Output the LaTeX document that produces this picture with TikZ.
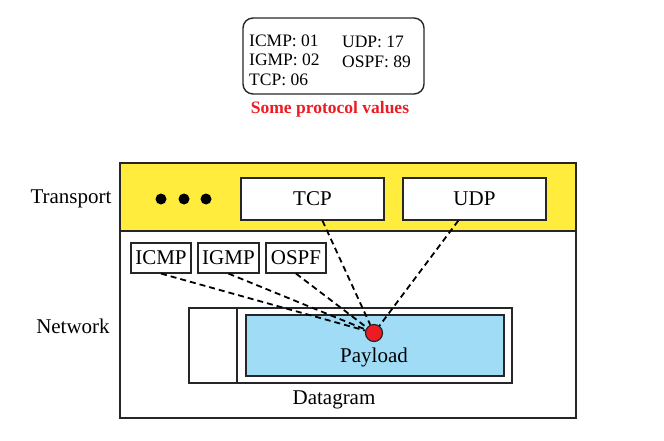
\documentclass[tikz,border=0pt]{standalone}
\usepackage{fontspec}
\setmainfont{Liberation Serif}
\definecolor{trY}{RGB}{255,236,60}
\definecolor{plB}{RGB}{160,220,246}
\definecolor{redP}{RGB}{237,28,36}
\begin{document}
\begin{tikzpicture}[x=1pt,y=-1pt,
  lbl/.style={font=\fontsize{21}{25}\selectfont},
  pbox/.style={draw=black!85,fill=white,line width=1.2pt,inner sep=0pt,font=\fontsize{21}{25}\selectfont},
  ptxt/.style={anchor=west,inner sep=0pt,font=\fontsize{17.5}{20}\selectfont},
  dl/.style={line width=1.8pt,dash pattern=on 6pt off 4pt}]
\useasboundingbox (0,0) rectangle (664,441);
% protocol box
\draw[line width=1.4pt,rounded corners=10pt,black!85] (243,18) rectangle (424,94);
\node[ptxt] (t1) at (249,41) {ICMP: 01};
\node[ptxt] (t2) at (249,60) {IGMP: 02};
\node[ptxt] (t3) at (249,80) {TCP: 06};
\node[ptxt] (t4) at (342,42) {UDP: 17};
\node[ptxt] (t5) at (342,62) {OSPF: 89};
\node[text=redP,font=\bfseries\fontsize{17.5}{20}\selectfont,inner sep=0pt] (cap) at (330,109) {Some protocol values};
% outer
\fill[trY] (120,163) rectangle (576,231);
\draw[line width=1.6pt,black!85] (120,163) rectangle (576,418);
\draw[line width=1.6pt,black!85] (120,231) -- (576,231);
\node[lbl,inner sep=0pt] (tr) at (71,199) {Transport};
\node[lbl,inner sep=0pt] (nw) at (73,326) {Network};
\foreach \x in {161,184,206} \fill (\x,199) circle (5.5pt);
\node[pbox,minimum width=143pt,minimum height=42pt] (tcp) at (312.5,199) {TCP};
\node[pbox,minimum width=143pt,minimum height=42pt] (udp) at (474.5,199) {UDP};
\node[pbox,minimum width=60pt,minimum height=30pt] (icmp) at (161,258) {ICMP};
\node[pbox,minimum width=61pt,minimum height=30pt] (igmp) at (228.5,258) {IGMP};
\node[pbox,minimum width=60pt,minimum height=30pt] (ospf) at (296,258) {OSPF};
% datagram
\draw[line width=1.4pt,black!85] (189,308) rectangle (512,383);
\draw[line width=1.4pt,black!85] (237,308) -- (237,383);
\draw[line width=1.4pt,black!85,fill=plB] (246,315) rectangle (504,376);
\node[lbl,inner sep=0pt] (pl) at (374,357) {Payload};
\node[lbl,inner sep=0pt] (dg) at (334,400) {Datagram};
\node[circle,draw=black!85,fill=redP,line width=1.2pt,minimum size=17pt,inner sep=0pt] (dot) at (374,333) {};
\draw[dl] (icmp.south) -- (dot);
\draw[dl] (igmp.south) -- (dot);
\draw[dl] (ospf.south) -- (dot);
\draw[dl] (tcp) -- (dot);
\draw[dl] (udp) -- (dot);
\end{tikzpicture}
\end{document}
